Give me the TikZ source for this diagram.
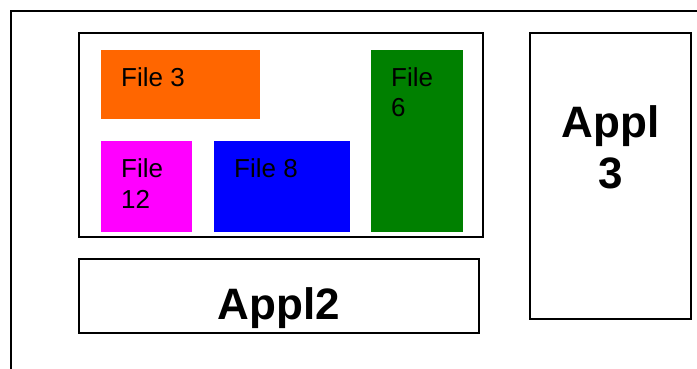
\documentclass[tikz,border=0pt]{standalone}
\usepackage{fontspec}
\setmainfont{Liberation Sans}
\begin{document}
\begin{tikzpicture}[x=1pt,y=-1pt,
  frame/.style={draw=black,line width=2pt},
  box/.style={anchor=north west,inner sep=0pt,outer sep=0pt},
  % multi-line labels sit on the baseline of their last line
  filelabel/.style={anchor=base west,inner sep=0pt,align=left,
    font=\fontsize{26}{30.5}\selectfont},
  appllabel/.style={anchor=base,inner sep=0pt,align=center,
    font=\fontsize{44}{50.6}\selectfont\bfseries}]
\definecolor{fileorange}{HTML}{FF6600}
\definecolor{filemagenta}{HTML}{FF00FF}
\definecolor{fileblue}{HTML}{0000FF}
\definecolor{filegreen}{HTML}{008000}
\useasboundingbox (0,0) rectangle (697,369);
\begin{scope}
\clip (0,0) rectangle (697,369);
% surrounding system frame, running off the right and bottom edges
\node[frame,box,minimum width=720pt,minimum height=400pt] (system) at (11,11) {};
\end{scope}
% file store with its files
\node[frame,box,minimum width=404pt,minimum height=204pt] (store) at (79,33) {};
\node[box,fill=fileorange,minimum width=159pt,minimum height=69pt] (f3) at (101,50) {};
\node[box,fill=filemagenta,minimum width=91pt,minimum height=91pt] (f12) at (101,141) {};
\node[box,fill=fileblue,minimum width=136pt,minimum height=91pt] (f8) at (214,141) {};
\node[box,fill=filegreen,minimum width=92pt,minimum height=182pt] (f6) at (371,50) {};
\node[filelabel] (l3) at ([shift={(20,36.5)}]f3.north west) {File 3};
\node[filelabel] (l12) at ([shift={(20,67)}]f12.north west) {File\\12};
\node[filelabel] (l8) at ([shift={(20,36)}]f8.north west) {File 8};
\node[filelabel] (l6) at ([shift={(20,67)}]f6.north west) {File\\6};
% applications
\node[frame,box,minimum width=400pt,minimum height=74pt] (appl2) at (79,259) {};
\node[frame,box,minimum width=161pt,minimum height=286pt] (appl3) at (530,33) {};
\node[appllabel] (t2) at (279,319.3) {Appl2};
\node[appllabel] (t3) at (610.5,188.3) {Appl\\3};
\end{tikzpicture}
\end{document}
